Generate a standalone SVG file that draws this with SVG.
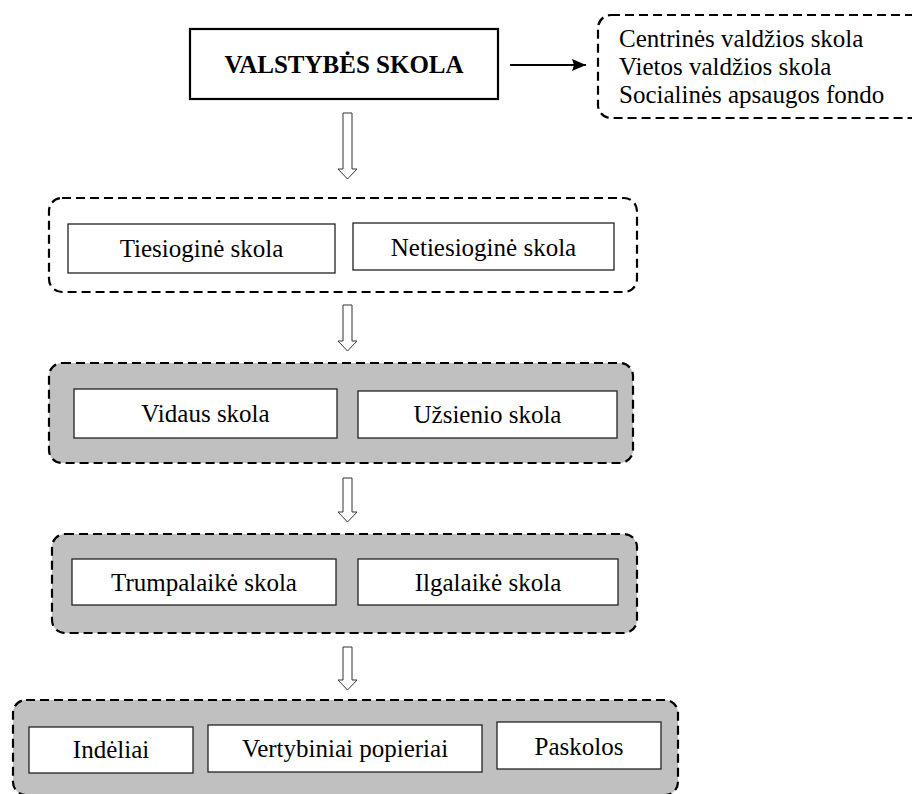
<svg xmlns="http://www.w3.org/2000/svg" width="912" height="794" viewBox="0 0 912 794">
<defs>
<style>
.t{font-family:"Liberation Serif","Times New Roman",serif;font-size:25px;fill:#000}
.c{text-anchor:middle}
.grp{stroke:#000;stroke-width:2.2;stroke-dasharray:9 5}
.w{fill:#fff}
.g{fill:#c0c0c0}
.box{fill:#fff;stroke:#222;stroke-width:1.3}
.hol{fill:#fff;stroke:#333;stroke-width:1}
</style>
<marker id="ah" viewBox="0 0 14 12" refX="14" refY="6" markerWidth="14" markerHeight="12" markerUnits="userSpaceOnUse" orient="auto">
<path d="M0,0 L14,6 L0,12 L2,6 Z" fill="#000"/>
</marker>
</defs>
<rect width="912" height="794" fill="#fff"/>

<g id="valstybes-skola">
<rect x="190" y="29" width="308" height="70" fill="#fff" stroke="#000" stroke-width="2.2"/>
<text class="t c" x="344" y="73" font-weight="bold">VALSTYBĖS SKOLA</text>
</g>

<g id="lygiai">
<rect class="grp w" x="598" y="15" width="330" height="103" rx="13"/>
<text class="t" x="619" y="47">Centrinės valdžios skola</text>
<text class="t" x="619" y="75">Vietos valdžios skola</text>
<text class="t" x="619" y="103">Socialinės apsaugos fondo</text>
</g>

<g id="grupe-1">
<rect class="grp w" x="49" y="198" width="588" height="94" rx="13"/>
<g id="tiesiogine">
<rect class="box" x="68" y="224" width="267" height="49"/>
<text class="t c" x="201.5" y="257">Tiesioginė skola</text>
</g>
<g id="netiesiogine">
<rect class="box" x="353" y="223" width="261" height="47"/>
<text class="t c" x="483.5" y="256">Netiesioginė skola</text>
</g>
</g>

<g id="grupe-2">
<rect class="grp g" x="49" y="363" width="584" height="100" rx="13"/>
<g id="vidaus">
<rect class="box" x="74" y="389" width="263" height="49"/>
<text class="t c" x="205.5" y="422">Vidaus skola</text>
</g>
<g id="uzsienio">
<rect class="box" x="358" y="391" width="259" height="47"/>
<text class="t c" x="487.5" y="423">Užsienio skola</text>
</g>
</g>

<g id="grupe-3">
<rect class="grp g" x="52" y="534" width="585" height="99" rx="13"/>
<g id="trumpalaike">
<rect class="box" x="72" y="559" width="264" height="46"/>
<text class="t c" x="204" y="591">Trumpalaikė skola</text>
</g>
<g id="ilgalaike">
<rect class="box" x="358" y="559" width="260" height="46"/>
<text class="t c" x="488" y="591">Ilgalaikė skola</text>
</g>
</g>

<g id="grupe-4">
<rect class="grp g" x="13" y="700" width="665" height="95" rx="13"/>
<g id="indeliai">
<rect class="box" x="29" y="727" width="164" height="46"/>
<text class="t c" x="111" y="758">Indėliai</text>
</g>
<g id="vertybiniai">
<rect class="box" x="208" y="725" width="274" height="47"/>
<text class="t c" x="345" y="757">Vertybiniai popieriai</text>
</g>
<g id="paskolos">
<rect class="box" x="497" y="722" width="164" height="47"/>
<text class="t c" x="579" y="755">Paskolos</text>
</g>
</g>

<g id="connectors">
<line x1="510" y1="65" x2="586" y2="65" stroke="#000" stroke-width="2.2" marker-end="url(#ah)"/>
<path class="hol" d="M343,113 H352 V169 H357 L347.5,179 L338,169 H343 Z"/>
<path class="hol" d="M343,305 H352 V341 H357 L347.5,351 L338,341 H343 Z"/>
<path class="hol" d="M343,478 H352 V512 H357 L347.5,522 L338,512 H343 Z"/>
<path class="hol" d="M343,647 H352 V680 H357 L347.5,690 L338,680 H343 Z"/>
</g>
</svg>
